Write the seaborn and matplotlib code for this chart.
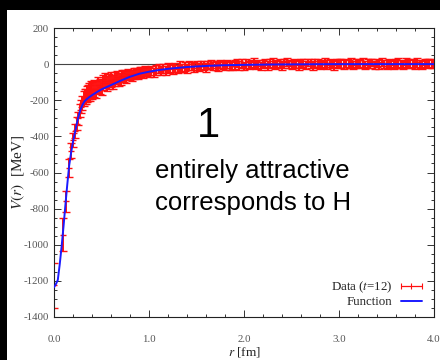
import numpy as np
import matplotlib
matplotlib.use("Agg")
import matplotlib.pyplot as plt
from matplotlib.lines import Line2D
from matplotlib.patches import Rectangle
from matplotlib.ticker import MultipleLocator, FormatStrFormatter
import seaborn as sns

# fitted potential curve V(r) [MeV]
r_fit = [0.00, 0.02, 0.04, 0.06, 0.08, 0.10, 0.12, 0.14, 0.16, 0.18, 0.20, 0.22,
         0.24, 0.26, 0.28, 0.30, 0.32, 0.34, 0.37, 0.40, 0.45, 0.50, 0.60, 0.70,
         0.80, 0.90, 1.00, 1.10, 1.20, 1.30, 1.40, 1.50, 1.60, 1.80, 2.00, 2.30,
         2.60, 3.00, 3.50, 4.00]
v_fit = [-1235, -1218, -1195, -1110, -1010, -900, -780, -665, -560, -490, -430, -380,
         -330, -285, -250, -225, -207, -196, -183, -172, -155, -140, -116, -92,
         -70, -53, -42, -33, -26, -21, -16, -13, -10, -6, -4, -2,
         -1, 0, 0, 0]

# lattice data (t=12), short distance
r_near = [0.000, 0.090, 0.127, 0.156, 0.180, 0.201, 0.220, 0.238, 0.255, 0.270, 0.285,
          0.298, 0.312, 0.324, 0.337, 0.349, 0.360, 0.371, 0.382, 0.393, 0.405]
v_near = [-1225, -945, -760, -575, -480, -420, -370, -330, -300, -255, -235,
          -215, -190, -180, -180, -165, -158, -150, -160, -138, -145]
err_near = [125, 92, 60, 48, 42, 40, 38, 36, 35, 36, 38,
            40, 40, 42, 42, 44, 44, 45, 45, 46, 46]

# intermediate distance
r_mid = [0.42, 0.44, 0.46, 0.48, 0.50, 0.52, 0.54, 0.56, 0.58, 0.60,
         0.62, 0.64, 0.66, 0.68, 0.70, 0.72, 0.74, 0.76, 0.78, 0.80,
         0.82, 0.84, 0.86, 0.88, 0.90, 0.92, 0.94, 0.96, 0.98, 1.00]
v_mid = [-135, -140, -117, -124, -125, -103, -92, -105, -95, -86,
         -97, -82, -73, -85, -82, -65, -67, -71, -56, -60,
         -62, -51, -50, -54, -42, -45, -50, -39, -41, -43]
err_mid = [46, 45, 45, 44, 44, 43, 42, 42, 41, 40,
           39, 38, 37, 36, 35, 34, 33, 32, 31, 30,
           30, 29, 29, 28, 28, 27, 27, 26, 26, 26]

# long distance tail
r_far = [1.025, 1.05, 1.075, 1.10, 1.125, 1.15, 1.175, 1.20, 1.225, 1.25,
         1.275, 1.30, 1.325, 1.35, 1.375, 1.40, 1.425, 1.45, 1.475, 1.50,
         1.525, 1.55, 1.575, 1.60, 1.625, 1.65, 1.675, 1.70, 1.725, 1.75,
         1.775, 1.80, 1.825, 1.85, 1.875, 1.90, 1.925, 1.95, 1.975, 2.00,
         2.025, 2.05, 2.075, 2.10, 2.125, 2.15, 2.175, 2.20, 2.225, 2.25,
         2.275, 2.30, 2.325, 2.35, 2.375, 2.40, 2.425, 2.45, 2.475, 2.50,
         2.525, 2.55, 2.575, 2.60, 2.625, 2.65, 2.675, 2.70, 2.725, 2.75,
         2.775, 2.80, 2.825, 2.85, 2.875, 2.90, 2.925, 2.95, 2.975, 3.00,
         3.025, 3.05, 3.075, 3.10, 3.125, 3.15, 3.175, 3.20, 3.225, 3.25,
         3.275, 3.30, 3.325, 3.35, 3.375, 3.40, 3.425, 3.45, 3.475, 3.50,
         3.525, 3.55, 3.575, 3.60, 3.625, 3.65, 3.675, 3.70, 3.725, 3.75,
         3.775, 3.80, 3.825, 3.85, 3.875, 3.90, 3.925, 3.95, 3.975, 4.00]
v_far = [-34, -46, -31, -23, -36, -26, -35, -18, -24, -28,
         -17, -27, -11, -21, -13, -24, -8, -11, -19, -7,
         -16, -3, -8, -17, -5, 1, -12, -7, -14, 2,
         -4, -11, 2, -5, -12, -1, 6, -7, 1, -10,
         3, -7, 1, 9, -4, 3, -11, 0, 6, -7,
         3, 7, -6, 0, 8, -8, 2, 11, -1, -5,
         5, 1, -6, 7, 2, -3, 9, 3, -8, 4,
         6, -4, 2, 9, -3, 5, 1, -6, 8, 3,
         4, -2, 7, 1, 10, -5, 3, 6, -1, 8,
         -3, 5, 2, 9, -4, 6, 0, 11, 3, -2,
         7, 1, -5, 4, 8, 2, -3, 10, 5, 0,
         6, -2, 9, 3, -4, 7, 2, 5, -1, 4]
err_far = [26, 25, 27, 24, 26, 25, 24, 26, 25, 24,
           25, 24, 26, 23, 25, 24, 25, 23, 24, 25,
           24, 23, 25, 24, 22, 24, 23, 25, 24, 23,
           23, 24, 22, 25, 23, 24, 22, 23, 25, 24,
           24, 22, 23, 25, 24, 22, 24, 23, 22, 24,
           23, 25, 22, 24, 23, 25, 24, 22, 23, 24,
           24, 23, 25, 22, 24, 23, 22, 24, 25, 23,
           22, 24, 23, 25, 24, 22, 23, 24, 22, 25,
           24, 23, 22, 24, 25, 23, 24, 22, 23, 24,
           23, 25, 24, 22, 23, 24, 25, 23, 22, 24,
           24, 22, 23, 25, 24, 23, 22, 24, 25, 23,
           23, 24, 25, 22, 24, 23, 24, 22, 23, 25]

x_ticks = [0.0, 1.0, 2.0, 3.0, 4.0]
y_ticks = [200, 0, -200, -400, -600, -800, -1000, -1200, -1400]

sns.set_theme(style="ticks")
plt.rcParams["font.family"] = ["Liberation Serif", "DejaVu Serif"]
plt.rcParams["mathtext.fontset"] = "stix"
plt.rcParams["axes.unicode_minus"] = False

fig = plt.figure(figsize=(4.4, 3.6), dpi=100, facecolor="black")
# white page area inside the black frame
fig.patches.append(Rectangle((7 / 440, 0), 1, 1 - 10 / 360, transform=fig.transFigure,
                             facecolor="white", edgecolor="none", zorder=-10))
ax = fig.add_axes([54 / 440, 43 / 360, 380 / 440, 289 / 360])
ax.set_facecolor("white")

r_data = r_near + r_mid + r_far
v_data = v_near + v_mid + v_far
err_data = err_near + err_mid + err_far

ax.axhline(0, color="#444444", lw=0.8, zorder=1)
ax.errorbar(r_data, v_data, yerr=err_data, fmt="_", color="#ff1010", ms=4.5, mew=1.0,
            elinewidth=1.4, capsize=2.6, capthick=1.1, zorder=2)
sns.lineplot(x=r_fit, y=v_fit, color="#1a1aff", lw=1.4, ax=ax, zorder=3, legend=False)

ax.set_xlim(0, 4.0)
ax.set_ylim(-1400, 200)
ax.set_xticks(x_ticks)
ax.set_yticks(y_ticks)
ax.xaxis.set_major_formatter(FormatStrFormatter("%.1f"))
ax.xaxis.set_minor_locator(MultipleLocator(0.2))
ax.yaxis.set_minor_locator(MultipleLocator(50))
ax.tick_params(which="both", direction="in", top=True, right=True,
               labelsize=7.8, labelcolor="#555555", color="#333333", width=0.7)
ax.tick_params(which="major", length=5)
ax.tick_params(which="minor", length=2.5)
ax.tick_params(axis="x", which="major", pad=13)
ax.tick_params(axis="y", which="major", pad=3.5)
for s in ax.spines.values():
    s.set_linewidth(0.8)
    s.set_color("#222222")

ax.set_xlabel(r"$r$ [fm]", fontsize=9.5, color="#222222")
ax.set_ylabel(r"$V(r)$  [MeV]", fontsize=11, color="#222222")
ax.xaxis.set_label_coords(0.5, -0.098)
ax.yaxis.set_label_coords(-0.07, 0.5)

h_data = Line2D([], [], color="#ff1010", lw=0.9, marker="|", ms=5, mew=0.8)
h_fit = Line2D([], [], color="#1a1aff", lw=1.4)
ax.legend([h_data, h_fit], [r"Data ($t$=12)", "Function"], loc="lower right",
          bbox_to_anchor=(0.978, 0.03), frameon=False, markerfirst=False,
          numpoints=3, fontsize=9.3, handlelength=2.2, handletextpad=0.4,
          borderpad=0, borderaxespad=0, labelspacing=0.1)

fig.text(208 / 440, 1 - 137 / 360, "1", ha="center", va="baseline",
         fontsize=30, family=["Liberation Sans", "DejaVu Sans"], color="black")
fig.text(155 / 440, 1 - 178 / 360, "entirely attractive", ha="left", va="baseline",
         fontsize=18.5, family=["Liberation Sans", "DejaVu Sans"], color="black")
fig.text(155 / 440, 1 - 210 / 360, "corresponds to H", ha="left", va="baseline",
         fontsize=18.5, family=["Liberation Sans", "DejaVu Sans"], color="black")

fig.savefig("out.png", dpi=100, facecolor="black")
